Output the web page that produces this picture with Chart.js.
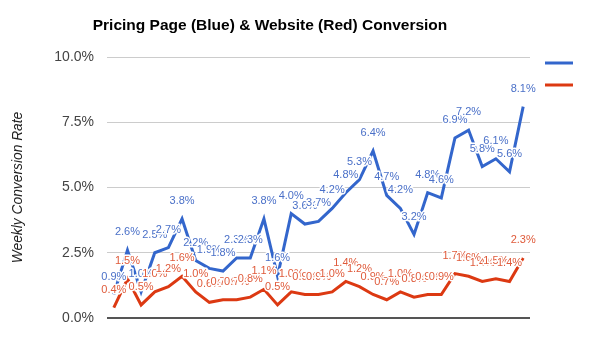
<!DOCTYPE html>
<html>
<head>
<meta charset="utf-8">
<script src="https://cdn.jsdelivr.net/npm/chart.js@4"></script>
<style>
  html, body { margin: 0; padding: 0; background: #fff; }
  #wrap { width: 613px; height: 353px; }
</style>
</head>
<body>
<div id="wrap"><canvas id="conv-chart" width="613" height="353"></canvas></div>
<script>
// weekly conversion, in percent
const weeks = [];
for (let i = 1; i <= 31; i++) weeks.push('W' + i);

const pricingPage = [0.9, 2.6, 1.0, 2.5, 2.7, 3.8, 2.2, 1.9, 1.8, 2.3, 2.3, 3.8, 1.6, 4.0, 3.6, 3.7,
                     4.2, 4.8, 5.3, 6.4, 4.7, 4.2, 3.2, 4.8, 4.6, 6.9, 7.2, 5.8, 6.1, 5.6, 8.1];
const website = [0.4, 1.5, 0.5, 1.0, 1.2, 1.6, 1.0, 0.6, 0.7, 0.7, 0.8, 1.1, 0.5, 1.0, 0.9, 0.9,
                 1.0, 1.4, 1.2, 0.9, 0.7, 1.0, 0.8, 0.9, 0.9, 1.7, 1.6, 1.4, 1.5, 1.4, 2.3];
const yTicks = [0, 2.5, 5.0, 7.5, 10.0];

const BLUE = '#3366cc';
const RED = '#dc3912';

// value labels above points, drawn with a white halo like the original
const pointLabels = {
    id: 'pointLabels',
    afterDatasetsDraw(chart) {
        const ctx = chart.ctx;
        ctx.save();
        ctx.font = '11px "Liberation Sans", Arial, sans-serif';
        ctx.textAlign = 'center';
        ctx.textBaseline = 'middle';
        ctx.lineJoin = 'round';
        chart.data.datasets.forEach((ds, di) => {
            const meta = chart.getDatasetMeta(di);
            meta.data.forEach((pt, i) => {
                const txt = ds.data[i].toFixed(1) + '%';
                ctx.lineWidth = 3;
                ctx.strokeStyle = '#fff';
                ctx.strokeText(txt, pt.x, pt.y - 18);
                ctx.fillStyle = ds.labelColor;
                ctx.fillText(txt, pt.x, pt.y - 18);
            });
        });
        ctx.restore();
    }
};

// title + legend swatches (legend has no text)
const decor = {
    id: 'decor',
    afterDraw(chart) {
        const ctx = chart.ctx;
        const area = chart.chartArea;
        ctx.save();
        ctx.font = 'bold 15.5px "Liberation Sans", Arial, sans-serif';
        ctx.fillStyle = '#000';
        ctx.textAlign = 'center';
        ctx.textBaseline = 'middle';
        ctx.fillText('Pricing Page (Blue) & Website (Red) Conversion', 270, 26);

        ctx.lineWidth = 3;
        [[BLUE, 63], [RED, 85]].forEach(([c, y]) => {
            ctx.strokeStyle = c;
            ctx.beginPath();
            ctx.moveTo(area.right + 15, y);
            ctx.lineTo(area.right + 43, y);
            ctx.stroke();
        });
        ctx.restore();
    }
};

new Chart(document.getElementById('conv-chart'), {
    type: 'line',
    data: {
        labels: weeks,
        datasets: [
            {
                label: 'Pricing Page',
                data: pricingPage,
                borderColor: BLUE,
                labelColor: '#4a70c8',
                borderWidth: 3,
                pointRadius: 0,
                tension: 0,
                fill: false
            },
            {
                label: 'Website',
                data: website,
                borderColor: RED,
                labelColor: '#df5a3a',
                borderWidth: 3,
                pointRadius: 0,
                tension: 0,
                fill: false
            }
        ]
    },
    options: {
        responsive: false,
        animation: false,
        layout: { padding: { left: 0, right: 83, top: 57, bottom: 35 } },
        plugins: {
            legend: { display: false },
            title: { display: false },
            tooltip: { enabled: false }
        },
        scales: {
            x: {
                display: false,
                offset: true
            },
            y: {
                min: 0,
                max: 10,
                afterFit(scale) { scale.width = 107; },
                afterBuildTicks(scale) { scale.ticks = yTicks.map(v => ({ value: v })); },
                border: { display: false },
                grid: {
                    drawTicks: false,
                    color: c => (c.tick && c.tick.value === 0) ? '#555' : '#cccccc',
                    lineWidth: c => (c.tick && c.tick.value === 0) ? 2 : 1
                },
                ticks: {
                    padding: 13,
                    color: '#444',
                    font: { family: '"Liberation Sans", Arial, sans-serif', size: 14 },
                    callback: v => v.toFixed(1) + '%'
                },
                title: {
                    display: true,
                    text: 'Weekly Conversion Rate',
                    color: '#222',
                    padding: { top: 10, bottom: 0 },
                    font: { family: '"Liberation Sans", Arial, sans-serif', size: 13.8, style: 'italic' }
                }
            }
        }
    },
    plugins: [pointLabels, decor]
});
</script>
</body>
</html>
